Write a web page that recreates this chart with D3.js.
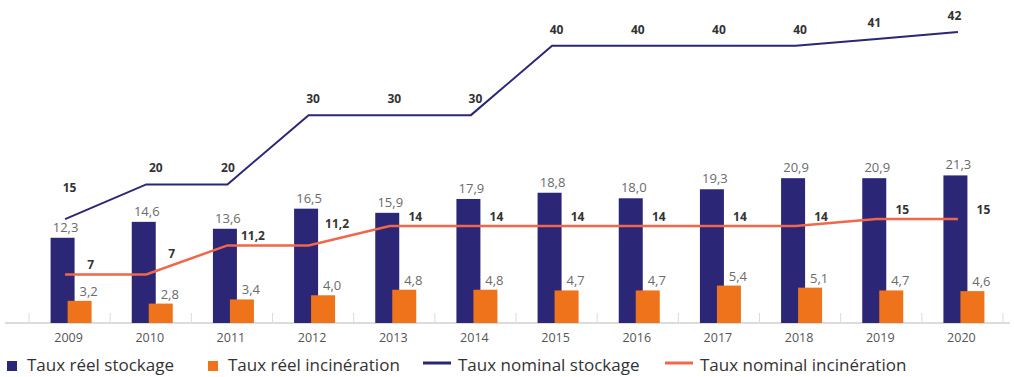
<!DOCTYPE html>
<html>
<head>
<meta charset="utf-8">
<script src="https://cdn.jsdelivr.net/npm/d3@7"></script>
<style>
  body { margin: 0; background: #fff; }
  svg { display: block; font-family: "Open Sans", sans-serif; }
</style>
</head>
<body>
<svg id="chart" width="1014" height="377"></svg>
<script>
// chart data
const years = ["2009","2010","2011","2012","2013","2014","2015","2016","2017","2018","2019","2020"];
const reelStockage = [12.3, 14.6, 13.6, 16.5, 15.9, 17.9, 18.8, 18.0, 19.3, 20.9, 20.9, 21.3];
const reelIncineration = [3.2, 2.8, 3.4, 4.0, 4.8, 4.8, 4.7, 4.7, 5.4, 5.1, 4.7, 4.6];
const nominalStockage = [15, 20, 20, 30, 30, 30, 40, 40, 40, 40, 41, 42];
const nominalIncineration = [7, 7, 11.2, 11.2, 14, 14, 14, 14, 14, 14, 15, 15];
const legendLabels = ["Taux réel stockage", "Taux réel incinération", "Taux nominal stockage", "Taux nominal incinération"];

const colors = {
    navy: "#2b2676",
    orange: "#ee731a",
    coral: "#f0674a",
    grid: "#dcdcdc"
};

const svg = d3.select("#chart");
const fmt = v => String(v).replace(".", ",");
const fmt1 = v => v.toFixed(1).replace(".", ",");

const x = d3.scaleBand().domain(years).range([29, 1003]).padding(0);
const y = d3.scaleLinear().domain([0, 45]).range([323, 11.2]);
const cx = d => x(d) + x.bandwidth() / 2;
const baseY = y(0);

// axis line + ticks between categories
svg.append("line")
    .attr("x1", 5).attr("x2", 1010)
    .attr("y1", baseY).attr("y2", baseY)
    .attr("stroke", colors.grid).attr("stroke-width", 2);

const tickXs = years.map(d => x(d)).concat([x.range()[1]]);
svg.selectAll(".tick").data(tickXs).join("line")
    .attr("x1", d => d).attr("x2", d => d)
    .attr("y1", baseY - 10).attr("y2", baseY)
    .attr("stroke", colors.grid).attr("stroke-width", 1);

// bars
const barW = 24;
svg.selectAll(".bar-s").data(years).join("rect")
    .attr("x", d => cx(d) - 19)
    .attr("y", (d, i) => y(reelStockage[i]))
    .attr("width", barW)
    .attr("height", (d, i) => baseY - y(reelStockage[i]))
    .attr("fill", colors.navy);

svg.selectAll(".bar-i").data(years).join("rect")
    .attr("x", d => cx(d) - 2)
    .attr("y", (d, i) => y(reelIncineration[i]))
    .attr("width", barW)
    .attr("height", (d, i) => baseY - y(reelIncineration[i]))
    .attr("fill", colors.orange);

// bar labels
svg.selectAll(".lab-s").data(years).join("text")
    .attr("x", d => cx(d) - 4)
    .attr("y", (d, i) => y(reelStockage[i]) - 6)
    .attr("text-anchor", "middle")
    .attr("font-size", 13)
    .attr("fill", "#6b6b6b")
    .text((d, i) => fmt1(reelStockage[i]));

svg.selectAll(".lab-i").data(years).join("text")
    .attr("x", d => cx(d) + 19)
    .attr("y", (d, i) => y(reelIncineration[i]) - 5)
    .attr("text-anchor", "middle")
    .attr("font-size", 13)
    .attr("fill", "#6b6b6b")
    .text((d, i) => fmt1(reelIncineration[i]));

// lines
const lineOffset = -4.5;
const line = d3.line().x(d => cx(d[0]) + lineOffset).y(d => y(d[1]));

svg.append("path")
    .datum(years.map((d, i) => [d, nominalStockage[i]]))
    .attr("d", line)
    .attr("fill", "none")
    .attr("stroke", colors.navy)
    .attr("stroke-width", 2);

svg.append("path")
    .datum(years.map((d, i) => [d, nominalIncineration[i]]))
    .attr("d", line)
    .attr("fill", "none")
    .attr("stroke", colors.coral)
    .attr("stroke-width", 2.5);

// line labels (a few are nudged to avoid collisions, as in the original)
const stockDy = { "2009": -27 };
const stockDx = { "2010": 5, "2011": -4, "2019": -7, "2020": -8 };
svg.selectAll(".lab-ns").data(years).join("text")
    .attr("x", d => cx(d) + (stockDx[d] || 0))
    .attr("y", (d, i) => y(nominalStockage[i]) + (stockDy[d] || -12))
    .attr("text-anchor", "middle")
    .attr("font-size", 12)
    .attr("font-weight", 700)
    .attr("fill", "#333")
    .text((d, i) => fmt(nominalStockage[i]));

const incDy = { "2010": -16, "2012": -17 };
const incDx = { "2012": 3 };
svg.selectAll(".lab-ni").data(years).join("text")
    .attr("x", d => cx(d) + 21 + (incDx[d] || 0))
    .attr("y", (d, i) => y(nominalIncineration[i]) + (incDy[d] || -5))
    .attr("text-anchor", "middle")
    .attr("font-size", 12)
    .attr("font-weight", 700)
    .attr("fill", "#333")
    .text((d, i) => fmt(nominalIncineration[i]));

// year labels
svg.selectAll(".year").data(years).join("text")
    .attr("x", d => cx(d) - 1)
    .attr("y", 341.5)
    .attr("text-anchor", "middle")
    .attr("font-size", 12.5)
    .attr("fill", "#555")
    .text(d => d);

// legend
const legendX = [7, 208, 423, 665];
const legendTypes = ["rect", "rect", "line", "line"];
const legendColors = [colors.navy, colors.orange, colors.navy, colors.coral];
const legY = 371;
legendLabels.forEach((label, i) => {
    const g = svg.append("g").attr("transform", `translate(${legendX[i]},0)`);
    if (legendTypes[i] === "rect") {
        g.append("rect").attr("x", 0).attr("y", 361).attr("width", 10).attr("height", 10)
            .attr("fill", legendColors[i]);
        g.append("text").attr("x", 20).attr("y", legY)
            .attr("font-size", 17).attr("fill", "#333").text(label);
    } else {
        g.append("line").attr("x1", 0).attr("x2", 28).attr("y1", 363).attr("y2", 363)
            .attr("stroke", legendColors[i]).attr("stroke-width", 3);
        g.append("text").attr("x", 35).attr("y", legY)
            .attr("font-size", 17).attr("fill", "#333").text(label);
    }
});
</script>
</body>
</html>
